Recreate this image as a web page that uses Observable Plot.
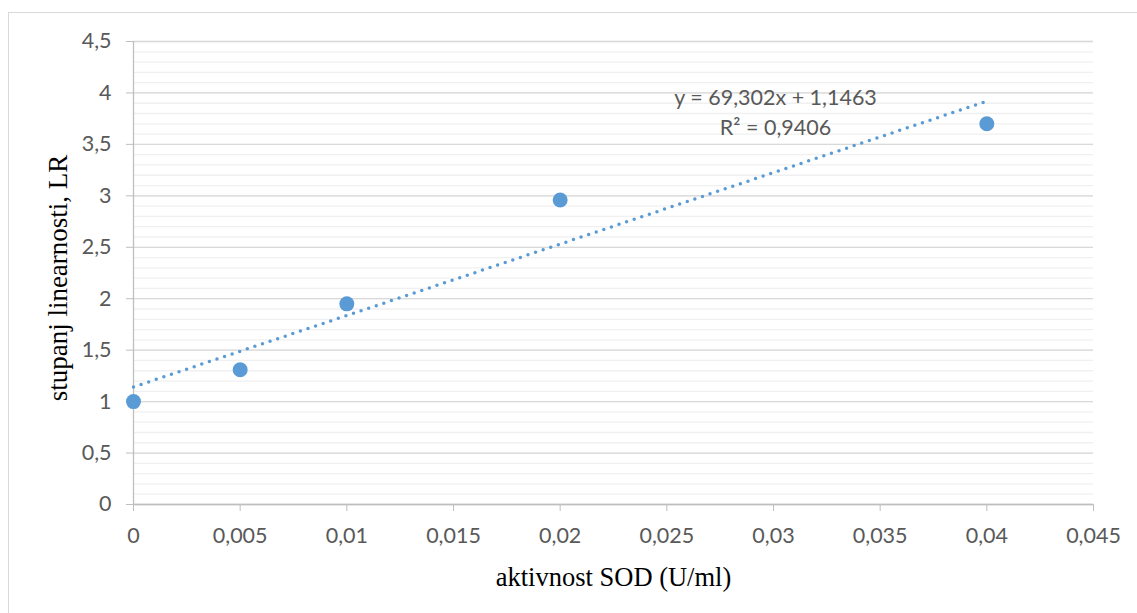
<!DOCTYPE html>
<html>
<head>
<meta charset="utf-8">
<script src="https://cdn.jsdelivr.net/npm/d3@7"></script>
<script src="https://cdn.jsdelivr.net/npm/@observablehq/plot@0.6"></script>
<style>
  html, body { margin: 0; padding: 0; background: #fff; }
  #wrap { position: relative; width: 1137px; height: 613px; overflow: hidden; }
  #frame { position: absolute; left: 8px; top: 12px; width: 1200px; height: 700px; border: 1px solid #d9d9d9; box-sizing: border-box; }
  #chart { position: absolute; left: 0; top: 0; }
</style>
</head>
<body>
<div id="wrap"><div id="frame"></div><div id="chart"></div></div>
<script>
// Data
const sodActivity = [0, 0.005, 0.01, 0.02, 0.04];        // x: aktivnost SOD (U/ml)
const linearityLR = [1.0, 1.31, 1.95, 2.96, 3.70];        // y: stupanj linearnosti, LR
const xTicks = [0, 0.005, 0.01, 0.015, 0.02, 0.025, 0.03, 0.035, 0.04, 0.045];
const yTicks = [0, 0.5, 1, 1.5, 2, 2.5, 3, 3.5, 4, 4.5];
const yMinorTicks = d3.range(0, 46).map(i => i / 10);
const xLabel = "aktivnost SOD (U/ml)";
const yLabel = "stupanj linearnosti, LR";
const trendLabel = ["y = 69,302x + 1,1463", "R² = 0,9406"];

const points = sodActivity.map((x, i) => ({x, y: linearityLR[i]}));
const fmt = d => String(d).replace(".", ",");

const blue = "#5b9bd5";
const tickFont = "Lato, 'Open Sans', sans-serif";
const serif = "'Liberation Serif', 'Times New Roman', serif";

const chart = Plot.plot({
  width: 1137,
  height: 613,
  marginLeft: 133,
  marginRight: 44,
  marginTop: 41,
  marginBottom: 109,
  style: {background: "transparent", fontFamily: tickFont, fontSize: "21.5px", color: "#595959"},
  x: {domain: [0, 0.045]},
  y: {domain: [0, 4.5]},
  marks: [
    Plot.gridY(yMinorTicks, {stroke: "#f0f0f0", strokeOpacity: 1, strokeWidth: 1.3}),
    Plot.gridY(yTicks, {stroke: "#d9d9d9", strokeOpacity: 1, strokeWidth: 1.3}),
    Plot.ruleX([0], {stroke: "#bfbfbf", strokeWidth: 1.3}),
    Plot.ruleY([0], {stroke: "#bfbfbf", strokeWidth: 1.3}),
    Plot.axisY(yTicks, {tickSize: 7, tickPadding: 15, tickFormat: fmt, stroke: "#bfbfbf", fill: "#595959", label: null, fontSize: 21.5}),
    Plot.axisX(xTicks, {tickSize: 7, tickPadding: 16, tickFormat: fmt, stroke: "#bfbfbf", fill: "#595959", label: null, fontSize: 21.5}),
    Plot.linearRegressionY(points, {x: "x", y: "y", ci: 0, stroke: blue, strokeWidth: 3.5, strokeDasharray: "0 8", strokeLinecap: "round"}),
    Plot.dot(points, {x: "x", y: "y", r: 7.5, fill: blue, stroke: null}),
    Plot.text([trendLabel.join("\n")], {frameAnchor: "top", dx: 162, dy: 42, lineAnchor: "top", lineHeight: 1.4, fontSize: 21.5, fill: "#595959", textAnchor: "middle"}),
    Plot.text([xLabel], {frameAnchor: "bottom", dy: 62.5, lineAnchor: "top", textAnchor: "middle", fontFamily: serif, fontSize: 26.5, fill: "#000"}),
    Plot.text([yLabel], {frameAnchor: "left", dx: -75, dy: 5, rotate: -90, lineAnchor: "middle", textAnchor: "middle", fontFamily: serif, fontSize: 27, fill: "#000"})
  ]
});
document.getElementById("chart").appendChild(chart);
</script>
</body>
</html>
